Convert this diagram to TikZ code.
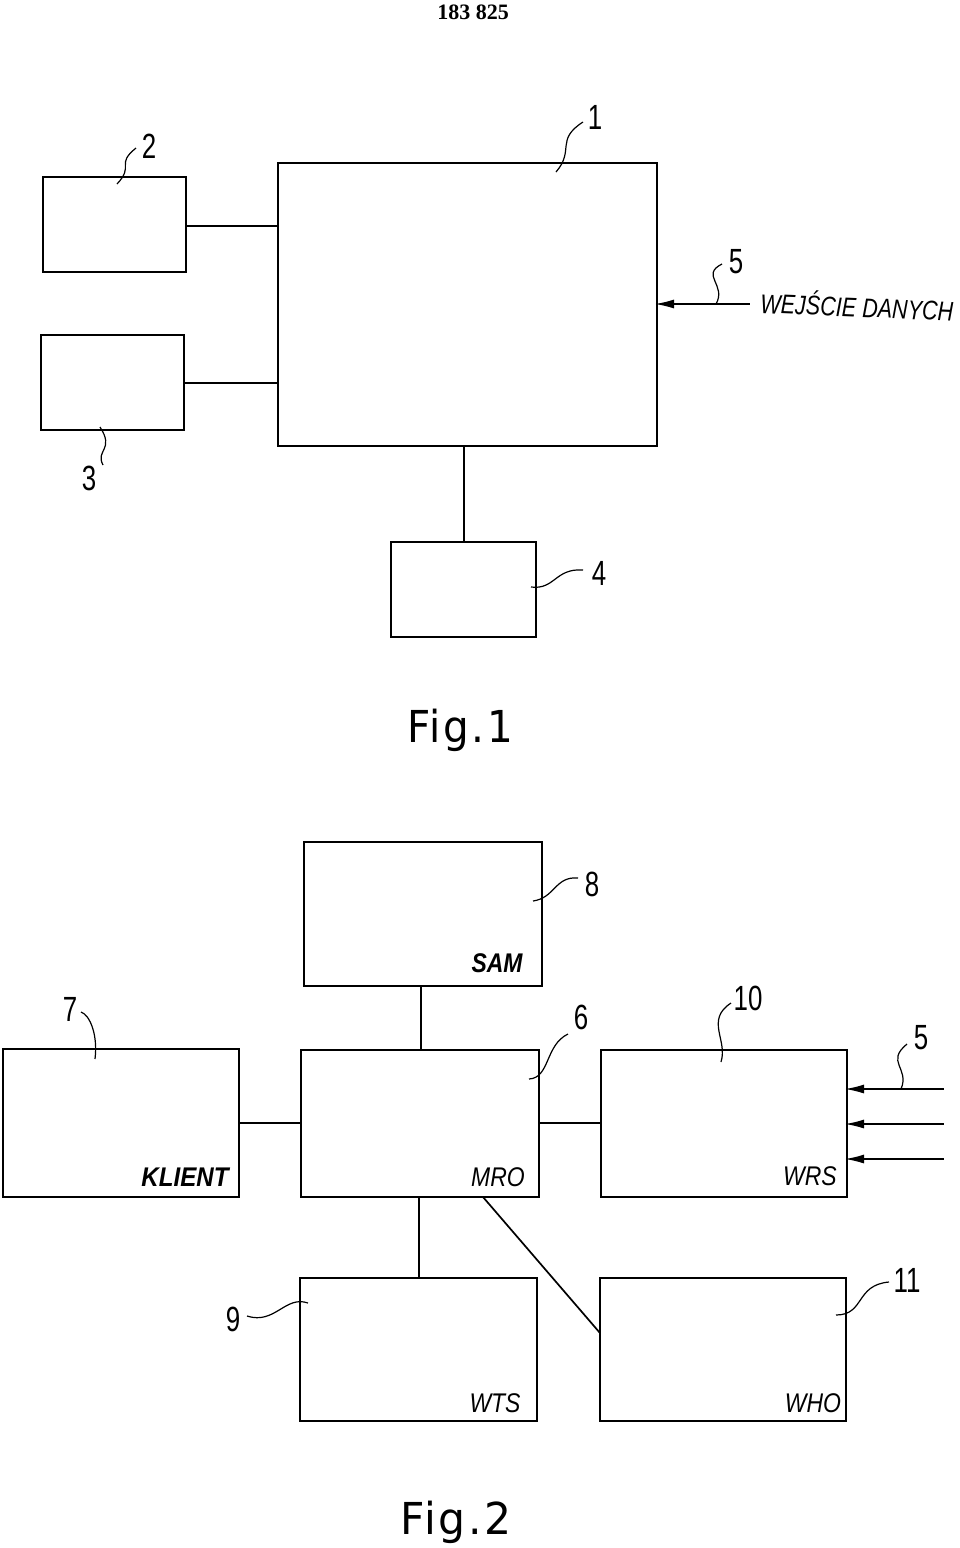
\documentclass[tikz,border=0pt]{standalone}
\usepackage{fontspec}
\setmainfont{Liberation Sans}
\newfontfamily\figfont[LetterSpace=6]{DejaVu Sans}
\newfontfamily\titlefont{Liberation Serif}
\usetikzlibrary{arrows.meta}
\begin{document}
\begin{tikzpicture}[x=1pt,y=-1pt,
  blk/.style={draw=black,line width=2pt,rectangle,inner sep=0pt,outer sep=0pt},
  conn/.style={draw=black,line width=1.7pt},
  inarrow/.style={draw=black,line width=1.4pt,{Latex[length=19pt,width=9pt]}-,shorten <=-2pt},
  lead/.style={draw=black,line width=1.2pt},
  num/.style={font=\fontsize{35}{35}\selectfont,inner sep=0pt,xscale=0.74},
  hand/.style={font=\fontsize{27}{27}\selectfont\itshape,inner sep=0pt,xscale=0.85},
  handb/.style={font=\fontsize{27}{27}\selectfont\itshape\bfseries,inner sep=0pt,xscale=0.85},
  figlab/.style={font=\fontsize{44}{44}\figfont,inner sep=0pt,xscale=0.92},
]
\useasboundingbox (0,0) rectangle (960,1548);
\fill[white] (0,0) rectangle (960,1548);
\node[inner sep=0pt,font=\fontsize{22}{22}\titlefont\bfseries] (title) at (473,12) {183 825};
% Fig 1
\node[blk,minimum width=379pt,minimum height=283pt] (n1) at (467.5,304.5) {};
\node[blk,minimum width=143pt,minimum height=95pt] (n2) at (114.5,224.5) {};
\node[blk,minimum width=143pt,minimum height=95pt] (n3) at (112.5,382.5) {};
\node[blk,minimum width=145pt,minimum height=95pt] (n4) at (463.5,589.5) {};
\node[num] (l1) at (595,117) {1};
\node[num] (l2) at (149,146) {2};
\node[num] (l3) at (89,478) {3};
\node[num] (l4) at (599,573) {4};
\node[num] (l5a) at (736,262) {5};
\node[hand,rotate=-2,xscale=0.94] (in1) at (857,305) {WEJŚCIE DANYCH};
\node[figlab] (f1) at (460,730) {Fig.1};
\coordinate (a1) at (556,172);
\coordinate (a2) at (117,184);
\coordinate (a3) at (100,427);
\coordinate (a4) at (531,587);
\coordinate (a5) at (716,304);
\coordinate (s1) at (750,304);
\draw[conn] (n2.east|-0,226) -- (n1.west|-0,226);
\draw[conn] (n3.east|-0,383) -- (n1.west|-0,383);
\draw[conn] (n1.south-|464,0) -- (n4.north-|464,0);
\draw[inarrow] (n1.east|-s1) -- (s1);
\draw[lead] (a1) .. controls (575,150) and (555,140) .. (583,122);
\draw[lead] (a2) .. controls (135,165) and (115,165) .. (136,148);
\draw[lead] (a3) .. controls (115,450) and (95,450) .. (103,465);
\draw[lead] (a4) .. controls (555,590) and (555,568) .. (583,570);
\draw[lead] (a5) .. controls (727,285) and (700,275) .. (722,264);
% Fig 2
\node[blk,minimum width=238pt,minimum height=144pt] (n8) at (423,914) {};
\node[blk,minimum width=236pt,minimum height=148pt] (n7) at (121,1123) {};
\node[blk,minimum width=238pt,minimum height=147pt] (n6) at (420,1123.5) {};
\node[blk,minimum width=246pt,minimum height=147pt] (n10) at (724,1123.5) {};
\node[blk,minimum width=237pt,minimum height=143pt] (n9) at (418.5,1349.5) {};
\node[blk,minimum width=246pt,minimum height=143pt] (n11) at (723,1349.5) {};
\node[handb,xscale=1.0] (t8) at (497,963) {SAM};
\node[handb,xscale=1.05] (t7) at (185,1177) {KLIENT};
\node[hand] (t6) at (498,1177) {MRO};
\node[hand] (t10) at (810,1176) {WRS};
\node[hand] (t9) at (495,1403) {WTS};
\node[hand] (t11) at (813,1403) {WHO};
\node[num] (l8) at (592,884) {8};
\node[num] (l7) at (70,1009) {7};
\node[num] (l6) at (581,1017) {6};
\node[num] (l10) at (748,998) {10};
\node[num] (l5b) at (921,1038) {5};
\node[num] (l9) at (233,1319) {9};
\node[num] (l11) at (907,1280) {11};
\node[figlab,xscale=1.05] (f2) at (456,1522) {Fig.2};
\coordinate (s2) at (944,1089);
\coordinate (s3) at (944,1124);
\coordinate (s4) at (944,1159);
\coordinate (a8) at (533,901);
\coordinate (a7) at (95,1059);
\coordinate (a6) at (529,1079);
\coordinate (a10) at (721,1062);
\coordinate (a5b) at (901,1089);
\coordinate (a9) at (308,1303);
\coordinate (a11) at (836,1315);
\draw[conn] (n8.south-|421,0) -- (n6.north-|421,0);
\draw[conn] (n7.east|-0,1123) -- (n6.west|-0,1123);
\draw[conn] (n6.east|-0,1123) -- (n10.west|-0,1123);
\draw[conn] (n6.south-|419,0) -- (n9.north-|419,0);
\draw[conn] (n6.south-|483,0) -- (n11.west|-0,1333);
\draw[inarrow] (n10.east|-s2) -- (s2);
\draw[inarrow] (n10.east|-s3) -- (s3);
\draw[inarrow] (n10.east|-s4) -- (s4);
\draw[lead] (a8) .. controls (555,898) and (555,876) .. (578,878);
\draw[lead] (a7) .. controls (98,1035) and (90,1015) .. (81,1012);
\draw[lead] (a6) .. controls (550,1078) and (545,1045) .. (568,1034);
\draw[lead] (a10) .. controls (728,1040) and (705,1020) .. (731,1003);
\draw[lead] (a5b) .. controls (910,1068) and (885,1062) .. (907,1044);
\draw[lead] (a9) .. controls (285,1295) and (275,1325) .. (247,1316);
\draw[lead] (a11) .. controls (865,1315) and (855,1285) .. (889,1282);
\end{tikzpicture}
\end{document}
